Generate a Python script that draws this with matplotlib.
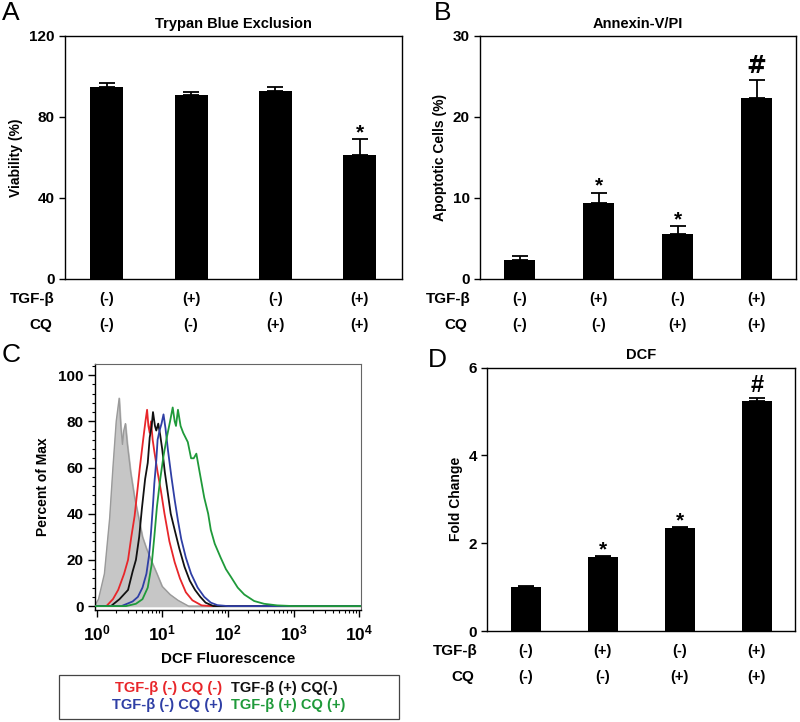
import numpy as np
import matplotlib
matplotlib.use("Agg")
import matplotlib.pyplot as plt
from matplotlib.patches import Rectangle
from matplotlib.ticker import LogLocator, NullFormatter, MultipleLocator

plt.rcParams["font.family"] = ["Liberation Sans", "DejaVu Sans"]
plt.rcParams["font.weight"] = "bold"
plt.rcParams["mathtext.fontset"] = "custom"
plt.rcParams["mathtext.rm"] = "Liberation Sans:bold"
plt.rcParams["mathtext.bf"] = "Liberation Sans:bold"
plt.rcParams["mathtext.default"] = "bf"

# group labels under the bars
tgf = ["(-)", "(+)", "(-)", "(+)"]
cq = ["(-)", "(-)", "(+)", "(+)"]

# A: trypan blue viability
viab = [95, 91, 93, 61]
viab_err = [2, 1.3, 2, 8]
viab_mark = ["", "", "", "*"]

# B: annexin-V/PI apoptosis
apop = [2.3, 9.4, 5.5, 22.3]
apop_err = [0.5, 1.2, 1.0, 2.3]
apop_mark = ["", "*", "*", "#"]

# D: DCF fold change
fold = [1.01, 1.68, 2.34, 5.24]
fold_err = [0.02, 0.02, 0.02, 0.07]
fold_mark = ["", "*", "*", "#"]

# C: flow histograms (log10 fluorescence, percent of max)
gray_log = [-0.03, 0.03, 0.12, 0.2, 0.25, 0.30, 0.345, 0.37, 0.395, 0.415, 0.44, 0.47, 0.52, 0.58, 0.63, 0.70, 0.76, 0.83, 0.92, 1.0, 1.12, 1.24, 1.4]
gray_pct = [0, 3, 14, 38, 60, 80, 90, 78, 70, 76, 79, 70, 58, 47, 40, 30, 25, 20, 14, 8.5, 5, 2.5, 0]
red_log = [0.15, 0.25, 0.33, 0.42, 0.48, 0.53, 0.58, 0.63, 0.66, 0.71, 0.745, 0.77, 0.79, 0.81, 0.83, 0.855, 0.88, 0.93, 0.98, 1.035, 1.11, 1.19, 1.27, 1.36, 1.46, 1.6, 1.75]
red_pct = [0, 3, 7, 14, 20, 30, 39, 52, 60, 72, 80, 85, 78, 75, 80, 72, 67, 58, 50, 40, 28, 19, 12, 6, 2.5, 0.3, 0]
black_log = [0.22, 0.35, 0.48, 0.55, 0.6, 0.65, 0.69, 0.74, 0.78, 0.81, 0.84, 0.86, 0.89, 0.91, 0.94, 0.97, 1.0, 1.04, 1.08, 1.13, 1.19, 1.26, 1.34, 1.42, 1.5, 1.58, 1.66, 1.78]
black_pct = [0, 3, 7, 15, 20, 30, 42, 55, 62, 73, 78, 84, 78, 76, 79, 74, 68, 58, 50, 40, 33, 25, 17, 11, 7, 4, 1.5, 0]
blue_log = [0.38, 0.55, 0.63, 0.7, 0.76, 0.8, 0.83, 0.86, 0.88, 0.91, 0.93, 0.96, 0.99, 1.02, 1.05, 1.09, 1.14, 1.19, 1.24, 1.29, 1.36, 1.44, 1.54, 1.64, 1.74, 1.84, 2.0]
blue_pct = [0, 2, 4, 8, 14, 22, 32, 44, 53, 63, 72, 76, 79, 83, 77, 67, 56, 46, 37, 29, 21, 14, 8, 4, 1.5, 0.4, 0]
green_log = [0.45, 0.6, 0.7, 0.78, 0.84, 0.88, 0.92, 0.97, 1.02, 1.07, 1.12, 1.16, 1.19, 1.21, 1.24, 1.28, 1.32, 1.39, 1.44, 1.48, 1.52, 1.57, 1.64, 1.7, 1.74, 1.8, 1.89, 1.97, 2.05, 2.15, 2.25, 2.4, 2.55, 2.75, 3.0]
green_pct = [0, 1, 3, 8, 18, 30, 43, 55, 65, 73, 80, 86, 80, 78, 85, 78, 75, 71, 64, 64, 66, 58, 47, 40, 33, 27, 21, 16, 12.5, 8, 5, 2.2, 1, 0.3, 0]

legend_items = [("TGF-β (-) CQ (-)", "#e8262a"), ("TGF-β (+) CQ(-)", "#111111"),
                ("TGF-β (-) CQ (+)", "#2f3fa5"), ("TGF-β (+) CQ (+)", "#1f9a3a")]

fig = plt.figure(figsize=(8, 7.22), dpi=100)


def bar_panel(rect, vals, errs, marks, ylim, step, title, ylabel, letter, letter_xy, hash_font):
    ax = fig.add_axes(rect)
    x = np.arange(len(vals))
    ax.bar(x, vals, width=0.39, color="black", zorder=2)
    ax.errorbar(x, vals, yerr=[np.zeros(len(vals)), errs], fmt="none",
                ecolor="black", elinewidth=1.3, capsize=6, capthick=1.3, zorder=3)
    for i, m in enumerate(marks):
        if m == "#":
            ax.annotate(m, (i, vals[i] + errs[i]), xytext=(0, 1),
                        textcoords="offset points", ha="center", va="bottom",
                        fontsize=17, fontweight="bold", family=hash_font)
        elif m:
            ax.annotate(m, (i, vals[i] + errs[i]), xytext=(0, -2),
                        textcoords="offset points", ha="center", va="bottom",
                        fontsize=15, fontweight="bold")
    ax.set_xlim(-0.5, len(vals) - 0.5)
    ax.set_ylim(*ylim)
    ax.yaxis.set_major_locator(MultipleLocator(step))
    ax.set_xticks([])
    ax.tick_params(axis="y", direction="out", length=4, width=1, labelsize=11)
    for s in ax.spines.values():
        s.set_linewidth(1.0)
    ax.set_title(title, fontsize=10.5, fontweight="bold", pad=6)
    ax.set_ylabel(ylabel, fontsize=10, fontweight="bold", labelpad=4)
    for i in x:
        ax.annotate(tgf[i], (i, 0), xycoords=("data", "axes fraction"), xytext=(0, -14.5),
                    textcoords="offset points", ha="center", va="center", fontsize=10.5)
        ax.annotate(cq[i], (i, 0), xycoords=("data", "axes fraction"), xytext=(0, -33),
                    textcoords="offset points", ha="center", va="center", fontsize=10.5)
    ax.annotate("TGF-β", (0, 0), xycoords="axes fraction", xytext=(-7, -14.5),
                textcoords="offset points", ha="right", va="center", fontsize=11)
    ax.annotate("CQ", (0, 0), xycoords="axes fraction", xytext=(-9, -33),
                textcoords="offset points", ha="right", va="center", fontsize=11)
    fig.text(letter_xy[0], letter_xy[1], letter, fontsize=19, fontweight="normal",
             ha="left", va="top")
    return ax


bar_panel([0.081, 0.6136, 0.421, 0.3366], viab, viab_err, viab_mark, (0, 120), 40,
          "Trypan Blue Exclusion", "Viability (%)", "A", (0.002, 0.998), "Liberation Sans")
bar_panel([0.600, 0.6136, 0.395, 0.3366], apop, apop_err, apop_mark, (0, 30), 10,
          "Annexin-V/PI", "Apoptotic Cells (%)", "B", (0.542, 0.998), "DejaVu Sans")
bar_panel([0.609, 0.126, 0.385, 0.3647], fold, fold_err, fold_mark, (0, 6), 2,
          "DCF", "Fold Change", "D", (0.535, 0.518), "Liberation Sans")

# C: histogram overlay
axc = fig.add_axes([0.119, 0.1551, 0.3325, 0.3407])


def ext(logs, pcts):
    xs = np.concatenate([[-0.1], logs, [4.1]])
    ys = np.concatenate([[0], pcts, [0]])
    return 10 ** xs, ys


gx, gy = ext(gray_log, gray_pct)
axc.fill_between(gx, gy, 0, color="#c6c6c6", zorder=1)
axc.plot(gx, gy, color="#9a9a9a", lw=1.0, zorder=2)
for logs, pcts, col in [(red_log, red_pct, "#e8262a"), (black_log, black_pct, "#111111"),
                        (blue_log, blue_pct, "#2f3fa5"), (green_log, green_pct, "#1f9a3a")]:
    cx, cy = ext(logs, pcts)
    axc.plot(cx, cy, color=col, lw=1.3, zorder=3)

axc.set_xscale("log")
axc.set_xlim(10 ** -0.02, 10 ** 4.03)
axc.set_ylim(-1.7, 104.8)
axc.xaxis.set_minor_locator(LogLocator(base=10, subs=np.arange(2, 10), numticks=10))
axc.xaxis.set_minor_formatter(NullFormatter())
axc.set_xticks([1, 10, 100, 1000, 10000])
axc.set_xticklabels([r"$10^{0}$", r"$10^{1}$", r"$10^{2}$", r"$10^{3}$", r"$10^{4}$"])
axc.yaxis.set_major_locator(MultipleLocator(20))
axc.yaxis.set_minor_locator(MultipleLocator(4))
axc.tick_params(axis="both", which="major", direction="out", length=5, width=1, labelsize=11)
axc.tick_params(axis="x", which="major", labelsize=12.5, pad=5)
axc.tick_params(axis="both", which="minor", direction="out", length=2.5, width=0.8)
for side in ["top", "right"]:
    axc.spines[side].set_color("#666666")
    axc.spines[side].set_linewidth(0.8)
for side in ["left", "bottom"]:
    axc.spines[side].set_linewidth(1.0)
axc.set_ylabel("Percent of Max", fontsize=10, fontweight="bold", labelpad=6)
axc.set_xlabel("DCF Fluorescence", fontsize=11, fontweight="bold", labelpad=6)
fig.text(0.002, 0.525, "C", fontsize=19, fontweight="normal", ha="left", va="top")

# legend box for panel C
fig.patches.append(Rectangle((0.074, 0.004), 0.425, 0.061, transform=fig.transFigure,
                             fill=False, edgecolor="#444444", linewidth=0.9))
fig.text(0.278, 0.047, legend_items[0][0], color=legend_items[0][1], fontsize=10.5, ha="right", va="center")
fig.text(0.289, 0.047, legend_items[1][0], color=legend_items[1][1], fontsize=10.5, ha="left", va="center")
fig.text(0.278, 0.023, legend_items[2][0], color=legend_items[2][1], fontsize=10.5, ha="right", va="center")
fig.text(0.289, 0.023, legend_items[3][0], color=legend_items[3][1], fontsize=10.5, ha="left", va="center")

fig.savefig("out.png", dpi=100)
